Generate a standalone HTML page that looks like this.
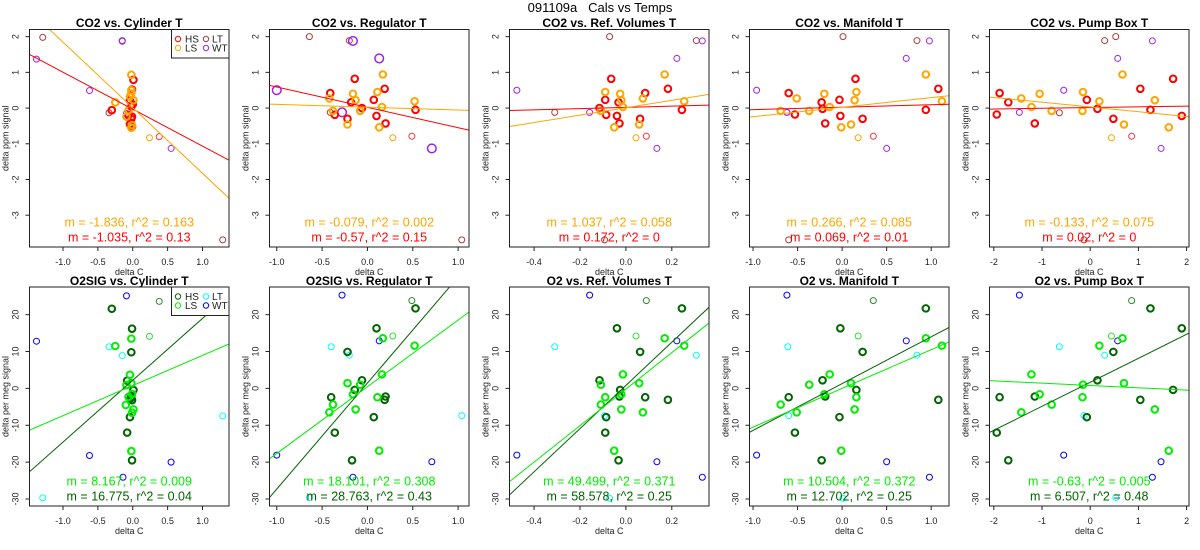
<!DOCTYPE html>
<html><head><meta charset="utf-8"><style>
html,body{margin:0;padding:0;background:#fff;}
svg{display:block;font-family:"Liberation Sans",sans-serif;}
</style></head><body>
<svg id="chart" xmlns="http://www.w3.org/2000/svg" width="1200" height="550" viewBox="0 0 1200 550">
<text x="600" y="12" text-anchor="middle" font-size="13" style="white-space:pre">091109a   Cals vs Temps</text>
</svg>
<script>
// ---- chart data ----
const panelTitles = ["CO2 vs. Cylinder T","CO2 vs. Regulator T","CO2 vs. Ref. Volumes T","CO2 vs. Manifold T","CO2 vs. Pump Box T",
  "O2SIG vs. Cylinder T","O2SIG vs. Regulator T","O2 vs. Ref. Volumes T","O2 vs. Manifold T","O2 vs. Pump Box T"];
const xDomains = [[-1.48,1.38],[-1.08,1.12],[-0.507,0.362],[-1.04,1.20],[-2.09,2.05]];
const xTicks = [[-1,-0.5,0,0.5,1],[-1,-0.5,0,0.5,1],[-0.4,-0.2,0,0.2],[-1,-0.5,0,0.5,1],[-2,-1,0,1,2]];
const xTickLabels = [["-1.0","-0.5","0.0","0.5","1.0"],["-1.0","-0.5","0.0","0.5","1.0"],["-0.4","-0.2","0.0","0.2"],["-1.0","-0.5","0.0","0.5","1.0"],["-2","-1","0","1","2"]];
const yDomainTop = [-3.89,2.2];
const yDomainBottom = [-31.9,27.5];
const yTicksTop = [-3,-2,-1,0,1,2];
const yTicksBottom = [-30,-20,-10,0,10,20];

// top row (CO2) points per panel
const co2HS = [
 [[-0.30,-0.06],[0.01,0.79],[-0.01,0.52],[-0.04,0.22],[-0.01,-0.24],[-0.06,-0.20],[-0.01,-0.52],[-0.04,-0.45],[-0.02,0.04],[-0.02,-0.30],[0.0,0.10]],
 [[-0.41,0.42],[-0.14,0.82],[-0.18,0.16],[-0.36,-0.19],[-0.22,-0.30],[-0.06,0],[0.07,0.23],[0.19,0.54],[0.10,-0.22],[0.20,-0.43],[0.53,-0.05]],
 [[-0.115,0],[-0.09,0.23],[-0.064,0.82],[-0.086,-0.19],[-0.032,0.16],[-0.039,-0.22],[-0.028,-0.43],[0.062,-0.30],[0.084,0.42],[0.183,0.54],[0.244,-0.05]],
 [[-0.60,0.42],[-0.53,-0.18],[-0.23,0.16],[-0.22,-0.02],[-0.19,-0.43],[-0.03,0.23],[-0.02,-0.22],[0.15,0.82],[0.23,-0.30],[0.94,-0.05],[1.08,0.54]],
 [[-1.94,-0.18],[-1.88,0.42],[-1.70,0.16],[-1.15,-0.43],[-0.07,0.23],[0.15,-0.02],[0.48,-0.30],[1.04,0.54],[1.25,-0.05],[1.72,0.82],[1.90,-0.22]]
];
const co2LS = [
 [[-0.02,0.93],[-0.02,0.50],[-0.02,0.41],[-0.25,0.16],[0.01,0.22],[-0.06,-0.06],[-0.09,-0.24],[-0.02,-0.55],[-0.04,0.32],[-0.01,-0.48]],
 [[-0.42,0.27],[-0.38,-0.08],[-0.16,0.40],[-0.13,0.22],[-0.22,-0.46],[-0.08,-0.08],[0.11,0.45],[0.17,0.94],[0.16,0.03],[0.13,-0.54],[0.52,0.19]],
 [[-0.109,-0.08],[-0.09,0.45],[-0.025,0.40],[-0.02,0.22],[-0.013,0.03],[-0.051,-0.54],[0.058,-0.46],[0.074,0.27],[0.169,0.94],[0.254,0.19]],
 [[-0.69,-0.08],[-0.51,0.27],[-0.37,-0.08],[-0.20,0.40],[-0.14,0.03],[-0.01,-0.54],[0.10,-0.46],[0.14,0.22],[0.16,0.45],[0.94,0.94],[1.12,0.19]],
 [[-1.43,0.27],[-1.22,0.03],[-1.05,0.40],[-0.80,-0.08],[-0.15,0.45],[-0.16,-0.08],[0.19,0.19],[0.67,0.94],[0.70,-0.46],[1.34,0.22],[1.63,-0.54]]
];
const co2LT = [
 [[-1.29,1.98],[-0.34,-0.13],[1.29,-3.69],[-0.15,1.89]],
 [[-0.64,2.0],[-0.20,1.89],[-0.41,-0.12],[1.04,-3.69]],
 [[-0.071,2.0],[-0.31,-0.12],[0.307,1.89],[-0.093,-3.69]],
 [[0.01,2.0],[0.84,1.89],[-0.60,-3.69],[-0.62,-0.12]],
 [[0.30,1.89],[0.53,2.0],[-0.64,-0.13],[-0.13,-3.69]]
];
const co2WT = [
 [[-1.38,1.37],[-0.62,0.49],[-0.15,1.87],[-0.09,-0.15],[0.55,-1.13]],
 [[-1.0,0.50],[-0.28,-0.12],[-0.16,1.88],[0.13,1.39],[0.71,-1.13]],
 [[-0.475,0.50],[-0.158,-0.12],[0.222,1.39],[0.333,1.88],[0.135,-1.13]],
 [[-0.96,0.50],[-0.62,-0.12],[0.72,1.39],[0.98,1.88],[0.50,-1.13]],
 [[-0.55,0.50],[-1.47,-0.12],[0.57,1.39],[1.29,1.88],[1.47,-1.13]]
];
const co2HSthin = [[[0.38,-0.80]],[[0.49,-0.79]],[[0.089,-0.79]],[[0.35,-0.79]],[[0.86,-0.79]]];
const co2LSthin = [[[0.24,-0.83]],[[0.28,-0.83]],[[0.044,-0.83]],[[0.18,-0.83]],[[0.44,-0.83]]];

// bottom row (O2) points per panel
const o2HS = [
 [[-0.30,21.6],[-0.01,16.2],[-0.02,9.8],[-0.08,2.1],[0.01,-0.45],[-0.02,-2.3],[-0.01,-3.2],[-0.04,-7.8],[-0.08,-12.0],[-0.01,-19.5],[-0.03,-2.7]],
 [[-0.40,-2.4],[-0.36,-12.0],[-0.22,9.9],[-0.14,-0.4],[-0.06,2.2],[-0.17,-19.5],[0.07,-7.8],[0.10,16.3],[0.20,-2.2],[0.19,-3.1],[0.53,21.7]],
 [[-0.115,2.2],[-0.09,-12.0],[-0.086,-7.8],[-0.039,16.3],[-0.032,-19.5],[-0.025,-0.4],[-0.028,-2.2],[0.062,9.9],[0.084,-2.4],[0.183,-3.1],[0.244,21.7]],
 [[-0.60,-2.4],[-0.53,-12.0],[-0.23,-19.5],[-0.22,2.2],[-0.19,-2.2],[-0.03,-7.8],[-0.02,16.3],[0.16,-0.4],[0.23,9.9],[0.94,21.7],[1.08,-3.1]],
 [[-1.94,-12.0],[-1.88,-2.4],[-1.70,-19.5],[-1.15,-2.2],[-0.07,-7.8],[0.15,2.2],[0.48,9.9],[1.04,-3.1],[1.25,21.7],[1.72,-0.4],[1.90,16.3]]
];
const o2LS = [
 [[-0.02,13.5],[-0.25,11.5],[-0.04,3.7],[-0.02,1.4],[-0.09,0.9],[-0.01,-1.5],[-0.10,-4.5],[0.01,-5.7],[-0.01,-6.6],[-0.02,-17.0],[-0.06,-2.3]],
 [[-0.42,-6.5],[-0.38,-4.4],[-0.22,1.4],[-0.16,-1.6],[-0.13,-5.7],[-0.08,1.0],[0.11,-2.4],[0.16,3.8],[0.17,13.6],[0.13,-16.9],[0.52,11.6]],
 [[-0.109,1.0],[-0.109,-4.4],[-0.09,-2.4],[-0.051,-16.9],[-0.02,-1.6],[-0.02,-5.7],[-0.013,3.8],[0.058,1.4],[0.074,-6.5],[0.169,13.6],[0.254,11.6]],
 [[-0.69,-4.4],[-0.51,-6.5],[-0.37,1.0],[-0.20,-1.6],[-0.14,3.8],[-0.01,-16.9],[0.10,1.4],[0.14,-5.7],[0.16,-2.4],[0.94,13.6],[1.12,11.6]],
 [[-1.43,-6.5],[-1.22,3.8],[-1.05,-1.6],[-0.80,-4.4],[-0.15,1.0],[-0.16,-2.4],[0.19,11.6],[0.67,13.6],[0.70,1.4],[1.34,-5.7],[1.63,-16.9]]
];
const o2LT = [
 [[-1.29,-29.7],[-0.34,11.3],[-0.15,8.9],[1.29,-7.5]],
 [[-0.40,11.3],[-0.20,9.0],[-0.64,-29.6],[1.04,-7.4]],
 [[-0.31,11.3],[0.307,9.0],[-0.071,-29.8],[-0.093,-7.4]],
 [[-0.61,11.3],[0.84,9.0],[0.01,-29.8],[-0.60,-7.4]],
 [[-0.64,11.3],[0.30,9.0],[0.53,-29.6],[-0.13,-7.4]]
];
const o2WT = [
 [[-1.38,12.8],[-0.09,25.1],[-0.62,-18.2],[-0.14,-24.1],[0.55,-20.0]],
 [[-1.0,-18.1],[-0.28,25.3],[0.13,12.9],[-0.16,-24.1],[0.71,-19.9]],
 [[-0.475,-18.1],[-0.158,25.3],[0.222,12.9],[0.333,-24.1],[0.135,-19.9]],
 [[-0.96,-18.1],[-0.62,25.3],[0.72,12.9],[0.98,-24.1],[0.50,-19.9]],
 [[-1.47,25.3],[-0.55,-18.1],[0.57,12.9],[1.29,-24.1],[1.47,-19.9]]
];
const o2HSthin = [[[0.38,23.6]],[[0.49,23.8]],[[0.089,23.8]],[[0.35,23.8]],[[0.86,23.8]]];
const o2LSthin = [[[0.24,14.1]],[[0.28,14.2]],[[0.044,14.2]],[[0.18,14.2]],[[0.44,14.2]]];

// regression fits: intercepts and slopes
const co2HSint = [-0.03,0.02,0.02,0.025,0.014];
const co2HSslope = [-1.035,-0.57,0.172,0.069,0.02];
const co2LSint = [0.01,0.025,0.01,0.025,0.03];
const co2LSslope = [-1.836,-0.079,1.037,0.266,-0.133];
const o2HSint = [2.2,1.45,0.8,1.3,1.65];
const o2HSslope = [16.775,28.763,58.578,12.702,6.507];
const o2LSint = [0.77,0.45,-0.2,0.0,0.78];
const o2LSslope = [8.167,18.101,49.499,10.504,-0.63];
const co2LSlabels = ["m = -1.836, r^2 = 0.163","m = -0.079, r^2 = 0.002","m = 1.037, r^2 = 0.058","m = 0.266, r^2 = 0.085","m = -0.133, r^2 = 0.075"];
const co2HSlabels = ["m = -1.035, r^2 = 0.13","m = -0.57, r^2 = 0.15","m = 0.172, r^2 = 0","m = 0.069, r^2 = 0.01","m = 0.02, r^2 = 0"];
const o2LSlabels = ["m = 8.167, r^2 = 0.009","m = 18.101, r^2 = 0.308","m = 49.499, r^2 = 0.371","m = 10.504, r^2 = 0.372","m = -0.63, r^2 = 0.005"];
const o2HSlabels = ["m = 16.775, r^2 = 0.04","m = 28.763, r^2 = 0.43","m = 58.578, r^2 = 0.25","m = 12.702, r^2 = 0.25","m = 6.507, r^2 = 0.48"];

const svg = document.getElementById('chart');
const NS = 'http://www.w3.org/2000/svg';
function mk(tag, attrs, parent){
  const e = document.createElementNS(NS, tag);
  for (const k in attrs) e.setAttribute(k, attrs[k]);
  (parent||svg).appendChild(e); return e;
}

const rows = [
 {top:29.5,bottom:247,yd:yDomainTop,yt:yTicksTop,ytl:yTicksTop.map(String),ytitle:"delta ppm signal",
  HS:co2HS,LS:co2LS,LT:co2LT,WT:co2WT,HSt:co2HSthin,LSt:co2LSthin,
  hsI:co2HSint,hsM:co2HSslope,lsI:co2LSint,lsM:co2LSslope,hsL:co2HSlabels,lsL:co2LSlabels,
  cHS:"#ff0000",cLS:"#ffa500",cLT:"#b03a3a",cWT:"#a020f0",cHSt:"#ff3b3b",cLSt:"#ffa500",
  lab1Y:226.5,lab2Y:241.5,tickY:265,xtitleY:275,titleY:27},
 {top:287,bottom:506,yd:yDomainBottom,yt:yTicksBottom,ytl:yTicksBottom.map(String),ytitle:"delta per meg signal",
  HS:o2HS,LS:o2LS,LT:o2LT,WT:o2WT,HSt:o2HSthin,LSt:o2LSthin,
  hsI:o2HSint,hsM:o2HSslope,lsI:o2LSint,lsM:o2LSslope,hsL:o2HSlabels,lsL:o2LSlabels,
  cHS:"#006400",cLS:"#00ee00",cLT:"#00ffff",cWT:"#0000ff",cHSt:"#2e8b2e",cLSt:"#33dd33",
  lab1Y:485.5,lab2Y:500.5,tickY:524,xtitleY:534,titleY:285}
];

rows.forEach((R, ri) => {
  for (let i = 0; i < 5; i++) {
    const L = 29.5 + 240*i, Rt = 229 + 240*i;
    const xd = xDomains[i];
    const sx = v => L + (v - xd[0]) / (xd[1]-xd[0]) * (Rt - L);
    const sy = v => R.bottom - (v - R.yd[0]) / (R.yd[1]-R.yd[0]) * (R.bottom - R.top);
    const g = mk('g', {});
    
    
    const cid = 'clip' + ri + i;
    const cp = mk('clipPath', {id: cid}, g);
    mk('rect', {x:L, y:R.top, width:Rt-L, height:R.bottom-R.top}, cp);

    const t = mk('text', {x:(L+Rt)/2, y:R.titleY, 'text-anchor':'middle', 'font-size':12, 'font-weight':'bold'}, g);
    
    
    t.textContent = panelTitles[ri*5+i];

    xTicks[i].forEach((v, k) => {
      const x = sx(v);
      const tk = mk('line', {x1:x, x2:x, y1:R.bottom, y2:R.bottom+4, stroke:'#222', 'stroke-width':1}, g);
      
      
      const tl = mk('text', {x:x, y:R.tickY, 'text-anchor':'middle', 'font-size':9, fill:'#222'}, g);
      
      
      tl.textContent = xTickLabels[i][k];
    });
    const xt = mk('text', {x:(L+Rt)/2, y:R.xtitleY, 'text-anchor':'middle', 'font-size':9, fill:'#222'}, g);
    
    
    xt.textContent = 'delta C';
    R.yt.forEach((v, k) => {
      const y = sy(v);
      const tk = mk('line', {x1:L-4, x2:L, y1:y, y2:y, stroke:'#222', 'stroke-width':1}, g);
      
      
      const tl = mk('text', {x:L-11, y:y, 'text-anchor':'middle', 'font-size':9, fill:'#222', transform:`rotate(-90 ${L-11} ${y})`}, g);
      
      
      tl.textContent = R.ytl[k];
    });
    const yc = (R.top+R.bottom)/2, yx = L-21;
    const yti = mk('text', {x:yx, y:yc, 'text-anchor':'middle', 'font-size':9, fill:'#222', transform:`rotate(-90 ${yx} ${yc})`}, g);
    
    
    yti.textContent = R.ytitle;

    const pg = mk('g', {'clip-path':`url(#${cid})`}, g);
    function pts(arr, color, lw, r, name){
      arr.forEach(p => {
        const c = mk('circle', {cx:sx(p[0]), cy:sy(p[1]), r:r, fill:'none', stroke:color, 'stroke-width':lw}, pg);
        
        
      });
    }
    pts(R.LT[i], R.cLT, 1, 3, 'point-lt');
    pts(R.WT[i], R.cWT, (ri===0&&i===1)?1.5:1, (ri===0&&i===1)?4.3:3, 'point-wt');
    pts(R.HSt[i], R.cHSt, 1, 3, 'point-hs-thin');
    pts(R.LSt[i], R.cLSt, 1, 3, 'point-ls-thin');
    pts(R.HS[i], R.cHS, 2, 3.3, 'point-hs');
    pts(R.LS[i], R.cLS, 2, 3.3, 'point-ls');

    function fit(b, m, color, name){
      const ln = mk('line', {x1:sx(xd[0]), y1:sy(b + m*xd[0]), x2:sx(xd[1]), y2:sy(b + m*xd[1]), stroke:color, 'stroke-width':1}, pg);
      
      
    }
    fit(R.hsI[i], R.hsM[i], R.cHS, 'fit-line-hs');
    fit(R.lsI[i], R.lsM[i], R.cLS, 'fit-line-ls');

    const l1 = mk('text', {x:(L+Rt)/2, y:R.lab1Y, 'text-anchor':'middle', 'font-size':12.5, fill:R.cLS}, g);
    
    
    l1.textContent = R.lsL[i];
    const l2 = mk('text', {x:(L+Rt)/2, y:R.lab2Y, 'text-anchor':'middle', 'font-size':12.5, fill:R.cHS}, g);
    
    
    l2.textContent = R.hsL[i];

    const box = mk('rect', {x:L, y:R.top, width:Rt-L, height:R.bottom-R.top, fill:'none', stroke:'#222', 'stroke-width':1}, g);
    
    

    if (i === 0) {
      const lg = mk('g', {}, g);
      
      
      const lt = R.top, lb = R.top + 28.5;
      mk('rect', {x:171.5, y:lt, width:57.5, height:lb-lt, fill:'#fff', stroke:'#222', 'stroke-width':1}, lg);
      const entries = [['HS',R.cHS,178,185,lt+9.5],['LS',R.cLS,178,185,lt+18.5],['LT',R.cLT,206,212,lt+9.5],['WT',R.cWT,206,212,lt+18.5]];
      entries.forEach(e => {
        const eg = mk('g', {}, lg);
        
        
        mk('circle', {cx:e[2], cy:e[4], r:2.7, fill:'none', stroke:e[1], 'stroke-width':1}, eg);
        const tx = mk('text', {x:e[3], y:e[4]+3.5, 'font-size':10, fill:'#222'}, eg);
        tx.textContent = e[0];
      });
    }
  }
});
</script>
</body></html>
